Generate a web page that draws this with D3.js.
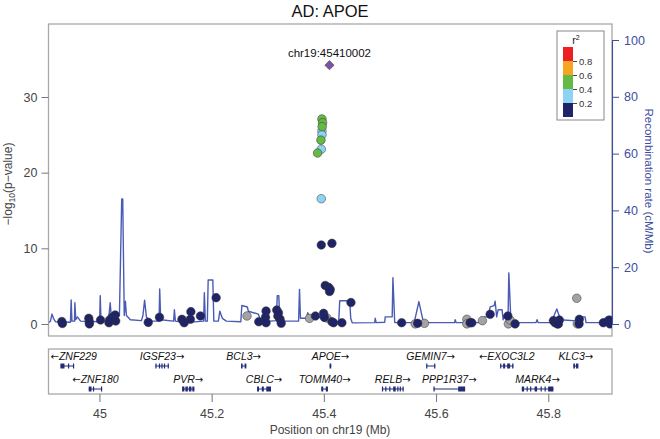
<!DOCTYPE html>
<html><head><meta charset="utf-8">
<script src="https://cdn.jsdelivr.net/npm/d3@7"></script>
<style>
html,body{margin:0;padding:0;background:#fff;}
svg{display:block;font-family:"Liberation Sans",Arial,Helvetica,sans-serif;}
</style></head>
<body><svg id="chart" width="660" height="439"></svg>
<script>
// ---------- DATA ----------
const title = "AD: APOE";
const leadSnp = { pos: 45.410002, logp: 34.2, label: "chr19:45410002" };

// SNPs: position (Mb), -log10(p), r2 class
const snpPos = [
  44.933,44.934,44.981,44.982,44.982,45.002,45.017,45.023,45.028,45.029,45.018,45.087,45.107,45.147,45.151,
  45.162,45.163,45.180,45.208,45.284,45.297,45.296,45.297,45.316,45.318,45.322,45.324,45.319,45.385,45.3995,
  45.401,45.3954,45.4144,45.4025,45.4084,45.4114,45.4101,45.4144,45.4173,45.4322,45.4483,45.5387,45.5672,45.6607,45.6637,
  45.6964,45.7279,45.7409,45.8091,45.8121,45.8162,45.8198,45.818,45.8554,45.8549,45.8981,45.9088,45.910,
  45.263,45.3745,45.4055,45.5628,45.5793,45.6549,45.6549,45.6826,45.7289,45.732,45.8508,45.8518,
  45.3966,45.3966,45.3954,45.3954,
  45.3966,45.3977,45.3970,45.3948,45.3888
];
const snpLogP = [
  0.33,0.07,0.75,0.30,0.02,0.53,0.17,0.89,1.19,0.40,0.53,0.22,0.89,0.62,0.17,
  0.62,1.63,1.06,3.48,0.30,1.72,0.89,0.17,1.85,1.06,0.62,0.09,1.49,1.06,1.41,
  0.89,10.44,10.66,5.09,4.85,4.56,4.30,0.30,0.17,0.17,2.84,0.17,0.09,0.17,0.17,
  1.28,1.06,0.02,0.44,0.17,0.02,0.53,0.01,0.62,0.02,0.17,0.53,0.02,
  1.06,0.75,0.79,0.02,0.09,0.62,0.02,0.44,0.02,0.53,3.40,0.02,
  25.5,25.0,23.1,16.56,
  27.1,26.6,26.08,24.3,22.6
];
const snpR2 = [
  0.1,0.1,0.1,0.1,0.1,0.1,0.1,0.1,0.1,0.1,0.1,0.1,0.1,0.1,0.1,
  0.1,0.1,0.1,0.1,0.1,0.1,0.1,0.1,0.1,0.1,0.1,0.1,0.1,0.1,0.1,
  0.1,0.1,0.1,0.1,0.1,0.1,0.1,0.1,0.1,0.1,0.1,0.1,0.1,0.1,0.1,
  0.1,0.1,0.1,0.1,0.1,0.1,0.1,0.1,0.1,0.1,0.1,0.1,0.1,
  null,null,null,null,null,null,null,null,null,null,null,null,
  0.3,0.3,0.3,0.3,
  0.5,0.5,0.5,0.5,0.5
];

// Recombination rate (cM/Mb)
const recombPos = [
  44.910,44.9127,44.9154,44.918,44.9216,44.9483,44.9496,44.951,44.9555,44.9562,44.9578,44.9608,44.9662,45.0004,45.0014,
  45.0028,45.016,45.0192,45.021,45.0356,45.0397,45.0415,45.0442,45.0463,45.0481,45.0552,45.0748,45.0775,45.0805,45.0837,
  45.0908,45.1063,45.1074,45.1092,45.1322,45.1336,45.1354,45.1532,45.1856,45.187,45.1888,45.1923,45.1938,45.2021,45.2039,
  45.212,45.2146,45.2191,45.2262,45.252,45.2538,45.2636,45.2654,45.2832,45.2867,45.3045,45.3152,45.317,45.3197,45.3215,
  45.355,45.3566,45.3583,45.3687,45.3713,45.374,45.3811,45.39,45.3989,45.4265,45.4283,45.4461,45.4479,45.4506,45.4906,
  45.4915,45.4933,45.5085,45.5094,45.5218,45.5231,45.5263,45.561,45.5694,45.577,45.586,45.6332,45.634,45.6358,45.6821,
  45.6857,45.6928,45.6964,45.7035,45.7053,45.708,45.7106,45.7177,45.7195,45.7213,45.7284,45.7297,45.7332,45.7373,45.7444,
  45.7783,45.78,45.7818,45.8086,45.8103,45.8152,45.8193,45.821,45.8566,45.8602,45.8656,45.8673,45.8923,45.8976,45.9047,45.9136
];
const recombRate = [
  0.5,1,3.5,2,0.8,0.6,8.5,1,1,7.5,1.5,2.5,1,0.8,10,
  1,1,7.5,3,3,44,44,3,8,3,1.5,1.2,3,8.4,2.5,
  1,1,12.3,1.5,1,5,1,0.5,1,11,1,1,15.5,15.5,1,
  1,4.5,2,1,0.8,6.5,6,4.5,3.5,1.5,1,1.2,10,10,1,
  1,12.2,2,2,4,2,2.5,3,1,0.8,8.2,8.2,2,0.4,0.5,
  2,0.5,0.6,2.5,2.5,16.3,0.5,0.5,7.9,1,0.5,0.5,1.5,0.5,0.5,
  2.5,2.5,6,6.5,8,2.5,5,5,1.5,3,3,18,2,1,0.5,
  0.5,1.5,0.5,0.5,3,5.3,3,1.5,1,2.5,2.5,0.5,0.5,1.5,2.5,2
];

// Genes
const geneNames   = ["ZNF229","IGSF23","BCL3","APOE","GEMIN7","EXOC3L2","KLC3","ZNF180","PVR","CBLC","TOMM40","RELB","PPP1R37","MARK4"];
const geneStart   = [44.9305,45.0997,45.2524,45.4102,45.5824,45.7142,45.8447,44.9809,45.1473,45.2809,45.3954,45.5035,45.5954,45.7528];
const geneEnd     = [44.9542,45.1234,45.2618,45.4132,45.5984,45.7379,45.8536,45.0048,45.1692,45.3058,45.4073,45.5420,45.6518,45.8091];
const geneStrand  = ["-","+","+","+","+","-","+","-","+","+","+","+","+","+"];
const geneRow     = [0,0,0,0,0,0,0,1,1,1,1,1,1,1];
const geneExons = [
  [[44.9305,44.9377],[44.9439,44.9457],[44.9528,44.9542]],
  [[45.0997,45.1015],[45.1060,45.1077],[45.1104,45.1122],[45.1149,45.1167],[45.1216,45.1234]],
  [[45.2524,45.2552],[45.2588,45.2618]],
  [[45.4102,45.4132]],
  [[45.5824,45.5842],[45.5966,45.5984]],
  [[45.7142,45.7160],[45.7195,45.7231],[45.7267,45.7320],[45.7356,45.7379]],
  [[45.8447,45.8477],[45.8495,45.8536]],
  [[44.9809,44.9858],[44.9884,44.9902],[45.0027,45.0048]],
  [[45.1473,45.1514],[45.1532,45.1576],[45.1594,45.1639],[45.1656,45.1692]],
  [[45.2809,45.2844],[45.2894,45.2930],[45.2974,45.3058]],
  [[45.3954,45.3989],[45.4034,45.4073]],
  [[45.5035,45.5053],[45.5094,45.5112],[45.5165,45.5183],[45.5236,45.5281],[45.5308,45.5326],[45.5352,45.5370],[45.5402,45.5420]],
  [[45.5954,45.5972],[45.6394,45.6518]],
  [[45.7528,45.7569],[45.7614,45.7632],[45.7676,45.7694],[45.7756,45.7801],[45.7863,45.7881],[45.7934,45.7952],[45.7997,45.8091]]
];

const xTicks = [45, 45.2, 45.4, 45.6, 45.8];
const pTicks = [0, 10, 20, 30];
const rTicks = [0, 20, 40, 60, 80, 100];
const r2Breaks = [0.2, 0.4, 0.6, 0.8];
const r2Colors = ["#1f2468", "#8dd3f3", "#65b945", "#f7a520", "#ec2024"];
const missingColor = "#a3a3a3";
const leadColor = "#7d52a6";

// ---------- LAYOUT ----------
const svg = d3.select("#chart");
const box = { l: 48.5, r: 612, t: 24, b: 336 };
const gbox = { t: 349, b: 394 };
const axisGrey = "#444";
const frameGrey = "#a8a8a8";
const recBlue = "#3d4d9f";

const x = d3.scaleLinear().domain([44.9092, 45.9136]).range([box.l, box.r]);
const yP = d3.scaleLinear().domain([0, 30]).range([324, 97]);
const yR = d3.scaleLinear().domain([0, 100]).range([324, 40]);
const r2Color = d3.scaleThreshold().domain(r2Breaks).range(r2Colors);

svg.append("defs").append("clipPath").attr("id", "clip")
  .append("rect").attr("x", box.l).attr("y", box.t).attr("width", box.r - box.l).attr("height", box.b - box.t);

// title
svg.append("text").attr("x", 330).attr("y", 17).attr("text-anchor", "middle")
  .attr("font-size", 16.5).attr("fill", "#111").text(title);

// plot frame
svg.append("rect").attr("x", box.l).attr("y", box.t).attr("width", box.r - box.l).attr("height", box.b - box.t)
  .attr("fill", "none").attr("stroke", frameGrey).attr("stroke-width", 1.3);

// recombination line
const plotG = svg.append("g").attr("clip-path", "url(#clip)");
plotG.append("path")
  .datum(recombPos.map((p, i) => [p, recombRate[i]]))
  .attr("fill", "none").attr("stroke", "#4a5bb5").attr("stroke-width", 1.4).attr("stroke-linejoin", "round")
  .attr("d", d3.line().x(d => x(d[0])).y(d => yR(d[1])));

// SNPs
const snps = snpPos.map((p, i) => ({ pos: p, logp: snpLogP[i], r2: snpR2[i] }));
const order = d => d.r2 == null ? -1 : d.r2;
snps.sort((a, b) => order(a) - order(b));
plotG.selectAll("circle.snp").data(snps).join("circle")
  .attr("class", "snp")
  .attr("cx", d => x(d.pos)).attr("cy", d => yP(d.logp)).attr("r", 4.3)
  .attr("fill", d => d.r2 == null ? missingColor : r2Color(d.r2))
  .attr("stroke", "#333").attr("stroke-width", 0.5);

// lead SNP
plotG.append("path")
  .attr("d", d3.symbol().type(d3.symbolDiamond2).size(55)())
  .attr("transform", `translate(${x(leadSnp.pos)},${yP(leadSnp.logp)})`)
  .attr("fill", leadColor).attr("stroke", "#333").attr("stroke-width", 0.5);
svg.append("text").attr("x", x(leadSnp.pos)).attr("y", yP(leadSnp.logp) - 8)
  .attr("text-anchor", "middle").attr("font-size", 11.5).attr("fill", "#111").text(leadSnp.label);

// left axis
const la = svg.append("g").attr("transform", `translate(${box.l},0)`)
  .call(d3.axisLeft(yP).tickValues(pTicks).tickSize(7).tickSizeOuter(0).tickPadding(4));
la.select(".domain").remove();
la.selectAll("line").attr("stroke", "#777");
la.selectAll("text").attr("font-size", 12.5).attr("fill", axisGrey).attr("font-family", "Liberation Sans, Arial, sans-serif");

// right axis
const ra = svg.append("g").attr("transform", `translate(${box.r},0)`)
  .call(d3.axisRight(yR).tickValues(rTicks).tickSize(7).tickSizeOuter(0).tickPadding(5));
ra.select(".domain").attr("stroke", recBlue).attr("stroke-width", 1.1);
ra.selectAll("line").attr("stroke", recBlue);
ra.selectAll("text").attr("font-size", 12.5).attr("fill", recBlue).attr("font-family", "Liberation Sans, Arial, sans-serif");

// axis titles
const lt = svg.append("text").attr("transform", `translate(12,184) rotate(-90)`)
  .attr("text-anchor", "middle").attr("font-size", 12).attr("fill", axisGrey);
lt.append("tspan").text("\u2212log");
lt.append("tspan").attr("font-size", 8.5).attr("dy", 3).text("10");
lt.append("tspan").attr("dy", -3).text("(p\u2212value)");

svg.append("text").attr("transform", `translate(645,181) rotate(90)`)
  .attr("text-anchor", "middle").attr("font-size", 11.5).attr("fill", recBlue)
  .text("Recombination rate (cM/Mb)");

// legend
const lg = { x: 557, y: 31, w: 47, h: 89 };
svg.append("rect").attr("x", lg.x).attr("y", lg.y).attr("width", lg.w).attr("height", lg.h)
  .attr("fill", "#fff").attr("stroke", "#888").attr("stroke-width", 1);
const lt2 = svg.append("text").attr("x", 576).attr("y", 44).attr("text-anchor", "middle").attr("font-size", 10.5).attr("fill", "#111");
lt2.append("tspan").text("r");
lt2.append("tspan").attr("font-size", 7).attr("dy", -4).text("2");
const lScale = d3.scaleLinear().domain([1, 0]).range([47, 117]);
const segs = [1, 0.8, 0.6, 0.4, 0.2, 0];
svg.selectAll("rect.lseg").data(d3.range(5)).join("rect").attr("class", "lseg")
  .attr("x", 563).attr("width", 10)
  .attr("y", i => lScale(segs[i])).attr("height", i => lScale(segs[i + 1]) - lScale(segs[i]))
  .attr("fill", i => r2Color(segs[i] - 0.1));
const lax = svg.append("g").attr("transform", "translate(573,0)")
  .call(d3.axisRight(lScale).tickValues([0.8, 0.6, 0.4, 0.2]).tickSize(4).tickSizeOuter(0).tickPadding(2));
lax.select(".domain").remove();
lax.selectAll("line").attr("stroke", "#444");
lax.selectAll("text").attr("font-size", 9.5).attr("fill", "#333").attr("font-family", "Liberation Sans, Arial, sans-serif");

// gene box
svg.append("rect").attr("x", box.l).attr("y", gbox.t).attr("width", box.r - box.l).attr("height", gbox.b - gbox.t)
  .attr("fill", "none").attr("stroke", frameGrey).attr("stroke-width", 1.3);

const rowLabelY = [360, 383];
const rowBodyY = [366, 389];
const geneColor = "#232a78";
const gg = svg.append("g");
geneNames.forEach((name, i) => {
  const r = geneRow[i];
  const g = gg.append("g");
  g.append("line").attr("x1", x(geneStart[i])).attr("x2", x(geneEnd[i]))
    .attr("y1", rowBodyY[r]).attr("y2", rowBodyY[r]).attr("stroke", geneColor).attr("stroke-width", 1);
  g.selectAll("rect").data(geneExons[i]).join("rect")
    .attr("x", e => x(e[0])).attr("width", e => Math.max(1.2, x(e[1]) - x(e[0])))
    .attr("y", rowBodyY[r] - 2.5).attr("height", 5).attr("fill", geneColor);
  const cx = (x(geneStart[i]) + x(geneEnd[i])) / 2;
  const t = g.append("text").attr("y", rowLabelY[r]).attr("text-anchor", "middle")
    .attr("font-size", 10.5).attr("fill", "#111");
  const arrow = (txt) => t.append("tspan").attr("font-family", "DejaVu Sans, sans-serif").attr("font-size", 10).text(txt);
  if (geneStrand[i] === "-") arrow("\u2190");
  t.append("tspan").attr("font-style", "italic").text(name);
  if (geneStrand[i] === "+") arrow("\u2192");
  const w = t.node().getComputedTextLength();
  const lx = Math.max(box.l + 2 + w / 2, Math.min(box.r - 2 - w / 2, cx));
  t.attr("x", lx);
});

// x axis
const xa = svg.append("g").attr("transform", `translate(0,${gbox.b})`)
  .call(d3.axisBottom(x).tickValues(xTicks).tickSize(8).tickSizeOuter(0).tickPadding(7)
    .tickFormat(d => String(+d.toFixed(1))));
xa.select(".domain").remove();
xa.selectAll("line").attr("stroke", "#777");
xa.selectAll("text").attr("font-size", 12.5).attr("fill", axisGrey).attr("font-family", "Liberation Sans, Arial, sans-serif");

svg.append("text").attr("x", 330).attr("y", 434).attr("text-anchor", "middle")
  .attr("font-size", 12).attr("fill", axisGrey).text("Position on chr19 (Mb)");
</script></body></html>
